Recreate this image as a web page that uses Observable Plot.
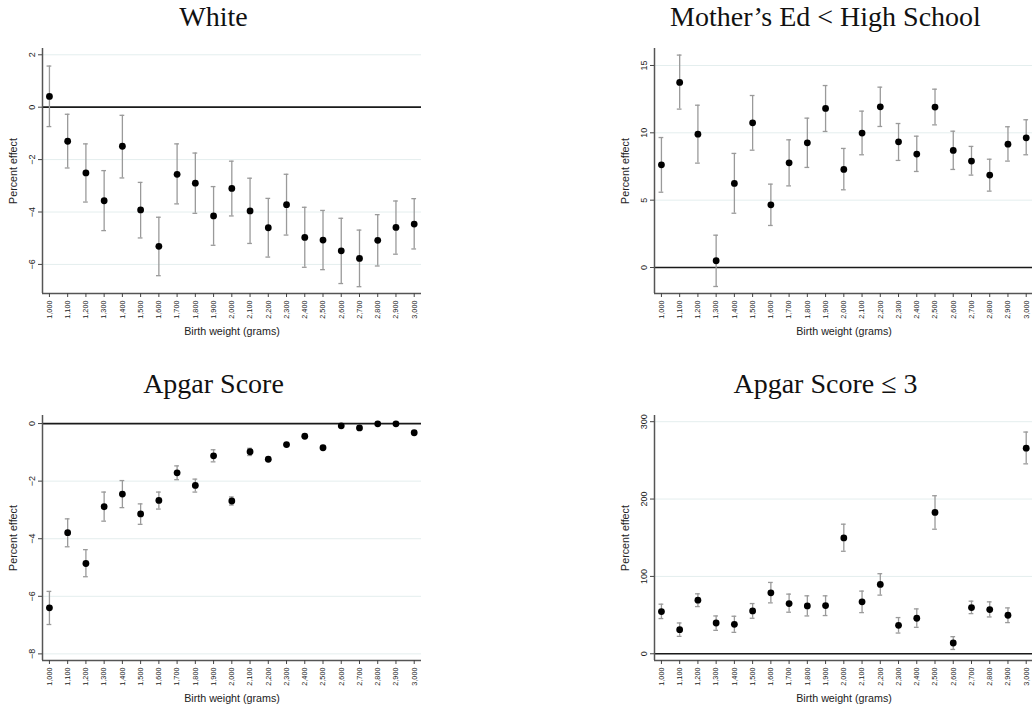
<!DOCTYPE html>
<html>
<head>
<meta charset="utf-8">
<script src="https://cdn.jsdelivr.net/npm/d3@7"></script>
<script src="https://cdn.jsdelivr.net/npm/@observablehq/plot@0.6"></script>
<style>
  html, body { margin: 0; padding: 0; background: #fff; overflow: hidden; width: 1032px; height: 712px; }
  .title { position: absolute; width: 400px; text-align: center; font-family: "Liberation Serif", "Times New Roman", serif; font-size: 28px; line-height: 28px; color: #111; white-space: nowrap; }
</style>
</head>
<body>
<div id="root"></div>
<script>
// Birth weight categories (grams)
const weights = [1000,1100,1200,1300,1400,1500,1600,1700,1800,1900,2000,2100,2200,2300,2400,2500,2600,2700,2800,2900,3000];

// Panel: White
const whiteEst = [0.41,-1.30,-2.51,-3.57,-1.49,-3.92,-5.31,-2.56,-2.90,-4.15,-3.10,-3.96,-4.60,-3.72,-4.97,-5.07,-5.48,-5.77,-5.08,-4.59,-4.46];
const whiteHi  = [1.57,-0.27,-1.40,-2.42,-0.31,-2.87,-4.20,-1.40,-1.75,-3.03,-2.06,-2.71,-3.48,-2.56,-3.82,-3.94,-4.24,-4.69,-4.10,-3.58,-3.49];
const whiteLo  = [-0.74,-2.32,-3.62,-4.71,-2.70,-4.99,-6.43,-3.69,-4.05,-5.27,-4.15,-5.20,-5.72,-4.88,-6.11,-6.20,-6.73,-6.85,-6.06,-5.61,-5.41];
const whiteTicks = [-6,-4,-2,0,2];

// Panel: Mother's Ed < High School
const momEst = [7.62,13.74,9.90,0.50,6.24,10.74,4.65,7.77,9.26,11.81,7.28,9.98,11.93,9.33,8.42,11.91,8.69,7.90,6.86,9.16,9.63];
const momHi  = [9.65,15.77,12.05,2.40,8.47,12.77,6.19,9.48,11.09,13.51,8.84,11.61,13.39,10.69,9.75,13.24,10.12,8.99,8.04,10.45,10.97];
const momLo  = [5.59,11.76,7.75,-1.41,4.03,8.71,3.12,6.06,7.43,10.10,5.77,8.37,10.47,7.95,7.13,10.59,7.28,6.86,5.67,7.90,8.37];
const momTicks = [0,5,10,15];

// Panel: Apgar Score
const apgarEst = [-6.40,-3.79,-4.86,-2.89,-2.45,-3.14,-2.67,-1.71,-2.15,-1.12,-2.69,-0.98,-1.24,-0.73,-0.44,-0.84,-0.08,-0.15,-0.01,-0.01,-0.32];
const apgarHi  = [-5.83,-3.31,-4.38,-2.38,-1.98,-2.79,-2.38,-1.47,-1.93,-0.91,-2.55,-0.86,-1.19,-0.69,-0.41,-0.81,-0.06,-0.13,0.00,0.00,-0.30];
const apgarLo  = [-6.98,-4.28,-5.32,-3.39,-2.92,-3.50,-2.97,-1.95,-2.38,-1.33,-2.83,-1.11,-1.29,-0.77,-0.47,-0.87,-0.10,-0.17,-0.02,-0.02,-0.34];
const apgarTicks = [-8,-6,-4,-2,0];

// Panel: Apgar Score <= 3
const low3Est = [54.5,31.2,69.3,39.8,38.1,55.4,78.8,64.9,61.9,62.3,149.8,67.1,89.6,36.8,45.9,182.7,13.9,59.7,57.1,49.8,265.8];
const low3Hi  = [64.1,39.8,77.5,48.9,48.5,64.9,92.2,77.1,74.9,74.9,167.5,81.0,103.5,46.8,58.0,204.3,22.1,68.0,67.1,59.3,286.6];
const low3Lo  = [45.5,22.5,61.0,30.3,27.7,45.9,65.8,53.7,48.9,49.4,132.5,53.2,75.8,26.8,34.2,161.0,5.6,51.9,47.6,40.3,245.5];
const low3Ticks = [0,100,200,300];

const xLabel = "Birth weight (grams)";
const yLabel = "Percent effect";

const panels = [
  {title: "White", left: 0, top: 0, est: whiteEst, lo: whiteLo, hi: whiteHi, yDomain: [-7.11, 2.24], yTicks: whiteTicks},
  {title: "Mother\u2019s Ed < High School", left: 612, top: 0, est: momEst, lo: momLo, hi: momHi, yDomain: [-1.93, 16.26], yTicks: momTicks},
  {title: "Apgar Score", left: 0, top: 367, est: apgarEst, lo: apgarLo, hi: apgarHi, yDomain: [-8.23, 0.28], yTicks: apgarTicks},
  {title: "Apgar Score \u2264 3", left: 612, top: 367, est: low3Est, lo: low3Lo, hi: low3Hi, yDomain: [-8.7, 308], yTicks: low3Ticks}
];

const xDomain = [962, 3040];
const capHalf = 13;
const root = document.getElementById("root");

for (const p of panels) {
  const rows = weights.map((w, i) => ({w, est: p.est[i], lo: p.lo[i], hi: p.hi[i]}));

  const t = document.createElement("div");
  t.className = "title";
  t.style.left = (p.left + 13.5) + "px";
  t.style.top = (p.top + 2.6) + "px";
  t.textContent = p.title;
  root.appendChild(t);

  const chart = Plot.plot({
    width: 430,
    height: 312,
    marginLeft: 42,
    marginRight: 9,
    marginTop: 12,
    marginBottom: 55,
    style: {fontFamily: "'Liberation Sans', Arial, sans-serif", color: "#222", background: "transparent"},
    x: {domain: xDomain},
    y: {domain: p.yDomain},
    marks: [
      Plot.gridY(p.yTicks, {stroke: "#e4eeee", strokeOpacity: 1, strokeWidth: 1}),
      Plot.ruleY([0], {stroke: "#1a1a1a", strokeWidth: 1.7}),
      Plot.ruleX(rows, {x: "w", y1: "lo", y2: "hi", stroke: "#9a9a9a", strokeWidth: 1.3}),
      Plot.ruleY(rows, {y: "hi", x1: d => d.w - capHalf, x2: d => d.w + capHalf, stroke: "#9a9a9a", strokeWidth: 1.3}),
      Plot.ruleY(rows, {y: "lo", x1: d => d.w - capHalf, x2: d => d.w + capHalf, stroke: "#9a9a9a", strokeWidth: 1.3}),
      Plot.dot(rows, {x: "w", y: "est", r: 3.4, fill: "#000", stroke: "none"}),
      Plot.ruleX([xDomain[0]], {stroke: "#555", strokeWidth: 1.5}),
      Plot.ruleY([p.yDomain[0]], {stroke: "#555", strokeWidth: 1.5}),
      Plot.axisX(weights, {
        tickFormat: d3.format(","), tickRotate: -90, tickSize: 4, tickPadding: 3,
        fontSize: 7.3, stroke: "#444",
        label: xLabel, labelAnchor: "center", labelOffset: 41, labelArrow: "none"
      }),
      Plot.axisY(p.yTicks, {
        tickFormat: d => String(d).replace("-", "\u2212"), tickRotate: -90, tickSize: 4, tickPadding: 4,
        fontSize: 9, stroke: "#444",
        label: yLabel, labelAnchor: "center", labelOffset: 33, labelArrow: "none"
      })
    ]
  });
  chart.style.position = "absolute";
  chart.style.left = p.left + "px";
  chart.style.top = (p.top + 36) + "px";
  root.appendChild(chart);
}

// axis titles slightly larger than tick labels
document.querySelectorAll("svg g[aria-label='x-axis label'], svg g[aria-label='y-axis label']").forEach(el => {
  el.setAttribute("font-size", "10.7");
  el.querySelectorAll("text").forEach(tx => tx.setAttribute("font-size", "10.7"));
});
</script>
</body>
</html>
